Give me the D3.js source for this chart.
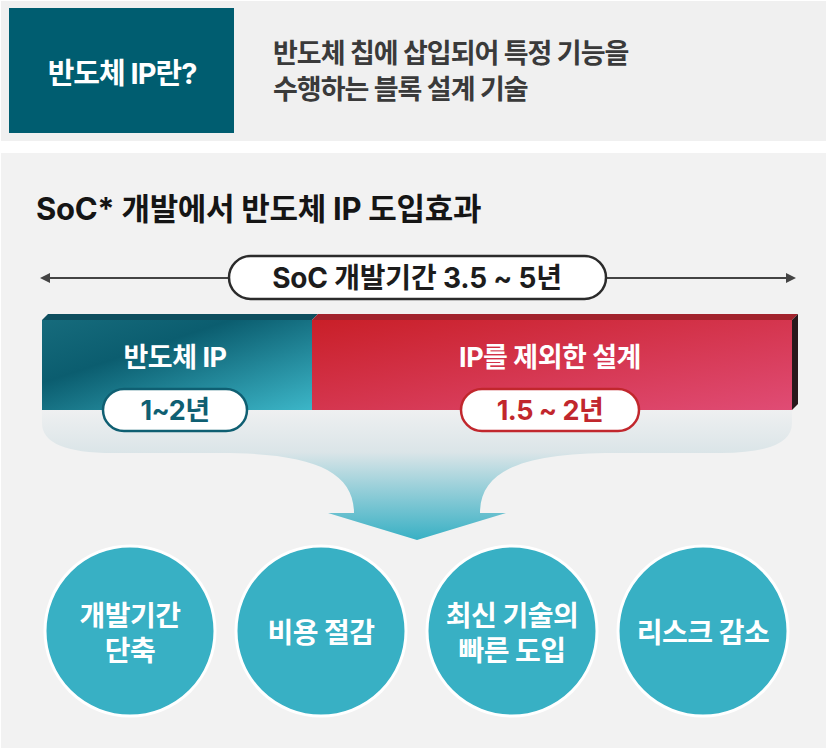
<!DOCTYPE html>
<html>
<head>
<meta charset="utf-8">
<script src="https://cdn.jsdelivr.net/npm/d3@7"></script>
<style>
  body { margin: 0; background: #fff; }
  svg { display: block; font-family: Inter, "Noto Sans CJK KR", "Noto Sans", sans-serif; }
</style>
</head>
<body>
<svg id="chart"></svg>
<script>
// data
var headTitle = "반도체 IP란?";
var headDesc = ["반도체 칩에 삽입되어 특정 기능을", "수행하는 블록 설계 기술"];
var chartTitle = "SoC* 개발에서 반도체 IP 도입효과";
var totalLabel = "SoC 개발기간 3.5 ~ 5년";
var segNames = ["반도체 IP", "IP를 제외한 설계"];
var segYears = ["1~2년", "1.5 ~ 2년"];
var segShares = [0.36, 0.64];
var effects = [["개발기간", "단축"], ["비용 절감"], ["최신 기술의", "빠른 도입"], ["리스크 감소"]];

var W = 826, H = 748;
var svg = d3.select("#chart").attr("width", W).attr("height", H);
var defs = svg.append("defs");

// gradients
function lin(id, x1, y1, x2, y2, stops) {
  var g = defs.append("linearGradient").attr("id", id)
    .attr("x1", x1).attr("y1", y1).attr("x2", x2).attr("y2", y2);
  stops.forEach(function(s) { g.append("stop").attr("offset", s[0]).attr("stop-color", s[1]); });
}
lin("gTeal", "0%", "0%", "100%", "100%", [[0, "#166b7c"], [0.35, "#0b5d6f"], [1, "#3cb6c8"]]);
lin("gRed", "0%", "0%", "100%", "100%", [[0, "#c91f28"], [1, "#e04c75"]]);
var fun = defs.append("linearGradient").attr("id", "gFunnel")
  .attr("gradientUnits", "userSpaceOnUse").attr("x1", 0).attr("y1", 409).attr("x2", 0).attr("y2", 540);
[[0, "#eff0f1"], [0.33, "#dbe5e8"], [1, "#38b0c4"]].forEach(function(s) {
  fun.append("stop").attr("offset", s[0]).attr("stop-color", s[1]);
});

// backgrounds
svg.append("rect").attr("x", 1).attr("y", 1).attr("width", W - 1).attr("height", 140).attr("fill", "#f0f0f0");
svg.append("rect").attr("x", 1).attr("y", 153).attr("width", W - 1).attr("height", H - 153).attr("fill", "#f2f2f2");

// header
svg.append("rect").attr("x", 9).attr("y", 8).attr("width", 225).attr("height", 125).attr("fill", "#005d70");
svg.append("text").attr("x", 122).attr("y", 84).attr("text-anchor", "middle")
  .attr("fill", "#fff").attr("font-size", 29).attr("font-weight", 700).attr("letter-spacing", -1)
  .text(headTitle);
svg.append("g").selectAll("text").data(headDesc).join("text")
  .attr("x", 273).attr("y", function(d, i) { return 63 + i * 36; })
  .attr("fill", "#3a3a3a").attr("font-size", 27).attr("font-weight", 700).attr("letter-spacing", -1)
  .text(function(d) { return d; });

// title
svg.append("text").attr("x", 36).attr("y", 220)
  .attr("fill", "#151515").attr("font-size", 31).attr("font-weight", 700).attr("letter-spacing", -0.3)
  .text(chartTitle);

// scales
var x = d3.scaleLinear().domain([0, 1]).range([42, 792]);
var cum = [0];
segShares.forEach(function(s, i) { cum.push(cum[i] + s); });
var segs = segNames.map(function(n, i) { return { name: n, years: segYears[i], x0: cum[i], x1: cum[i + 1] }; });
var cx = d3.scaleBand().domain(d3.range(effects.length)).range([34.5, 798.5]);

// total arrow
var ay = 278;
svg.append("line").attr("x1", x(0) + 4).attr("x2", x(1) - 2).attr("y1", ay).attr("y2", ay)
  .attr("stroke", "#444").attr("stroke-width", 2);
svg.append("path").attr("d", "M" + (x(0) - 2) + "," + ay + "l10,-5v10z").attr("fill", "#444");
svg.append("path").attr("d", "M" + (x(1) + 4) + "," + ay + "l-10,-5v10z").attr("fill", "#444");
svg.append("rect").attr("x", 229).attr("y", 256).attr("width", 377).attr("height", 43).attr("rx", 21.5)
  .attr("fill", "#fff").attr("stroke", "#2b2b2b").attr("stroke-width", 2.5);
svg.append("text").attr("x", 417).attr("y", 288).attr("text-anchor", "middle")
  .attr("fill", "#1c1c1c").attr("font-size", 28).attr("font-weight", 700).attr("letter-spacing", -0.2)
  .text(totalLabel);

// funnel
var fp = "M42,409 L792,409 L792,423 Q792,453 721,453 L614,453 C524,453 480,470 480,513 L506,513 L417,540 " +
  "L328,513 L354,513 C354,470 310,453 220,453 L113,453 Q42,453 42,423 Z";
svg.append("path").attr("d", fp).attr("fill", "url(#gFunnel)");

// bar (front, top, side)
var barTop = 320, barBot = 410, depth = 6;
var bars = svg.append("g");
bars.selectAll("rect").data(segs).join("rect")
  .attr("x", function(d) { return x(d.x0); }).attr("y", barTop)
  .attr("width", function(d) { return x(d.x1) - x(d.x0); }).attr("height", barBot - barTop)
  .attr("fill", function(d, i) { return i === 0 ? "url(#gTeal)" : "url(#gRed)"; });
bars.selectAll("path.top").data(segs).join("path").attr("class", "top")
  .attr("d", function(d) {
    var a = x(d.x0), b = x(d.x1);
    return "M" + a + "," + barTop + "L" + (a + depth) + "," + (barTop - depth) + "L" + (b + depth) + "," + (barTop - depth) + "L" + b + "," + barTop + "Z";
  })
  .attr("fill", function(d, i) { return i === 0 ? "#0e4f5f" : "#a2232d"; });
svg.append("path")
  .attr("d", "M" + x(1) + "," + barTop + "L" + (x(1) + depth) + "," + (barTop - depth) + "L" + (x(1) + depth) + "," + (barBot - depth) + "L" + x(1) + "," + barBot + "Z")
  .attr("fill", "#2a181c");

// segment labels
var segColors = ["#0f5f72", "#c1272d"];
bars.selectAll("text.name").data(segs).join("text").attr("class", "name")
  .attr("x", function(d) { return x((d.x0 + d.x1) / 2) - 2; }).attr("y", 367)
  .attr("text-anchor", "middle").attr("fill", "#fff").attr("font-size", 27).attr("font-weight", 700)
  .attr("letter-spacing", -0.5)
  .text(function(d) { return d.name; });
var pills = bars.selectAll("g.pill").data(segs).join("g").attr("class", "pill")
  .attr("transform", function(d) { return "translate(" + (x((d.x0 + d.x1) / 2) - 2) + ",410)"; });
pills.append("rect")
  .attr("x", function(d, i) { return i === 0 ? -72 : -89; }).attr("y", -21)
  .attr("width", function(d, i) { return i === 0 ? 144 : 178; }).attr("height", 42).attr("rx", 21)
  .attr("fill", "#fff").attr("stroke", function(d, i) { return segColors[i]; }).attr("stroke-width", 2.5);
pills.append("text").attr("y", 10).attr("text-anchor", "middle")
  .attr("fill", function(d, i) { return segColors[i]; }).attr("font-size", 27).attr("font-weight", 700)
  .attr("letter-spacing", -0.5)
  .text(function(d) { return d.years; });

// effect circles
var cg = svg.append("g").selectAll("g").data(effects).join("g")
  .attr("transform", function(d, i) { return "translate(" + (cx(i) + cx.bandwidth() / 2) + ",631)"; });
cg.append("circle").attr("r", 85).attr("fill", "#38b0c4").attr("stroke", "#fff").attr("stroke-width", 3);
cg.selectAll("text").data(function(d) { return d; }).join("text")
  .attr("text-anchor", "middle").attr("fill", "#fff").attr("font-size", 28).attr("font-weight", 700)
  .attr("letter-spacing", -0.5)
  .attr("y", function(d, i, n) { return (n.length === 1 ? 12 : -5 + i * 35) ; })
  .text(function(d) { return d; });
</script>
</body>
</html>
